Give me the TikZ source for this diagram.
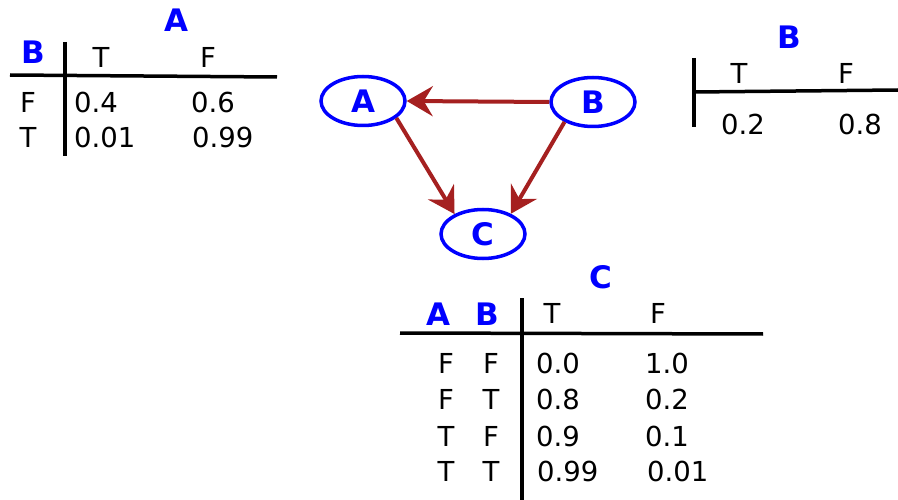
\documentclass[tikz,border=0pt]{standalone}
\usepackage{fontspec}
\setmainfont{DejaVu Sans}
\usetikzlibrary{arrows.meta,shapes.geometric}
\definecolor{arrred}{RGB}{165,32,32}
\tikzset{
  txt/.style={inner sep=0pt, font=\fontsize{27.5}{32}\selectfont},
  val/.style={txt, anchor=west},
  lbl/.style={inner sep=0pt, text=blue, font=\fontsize{31}{36}\selectfont\bfseries},
  rule/.style={line width=3.5pt, black},
  var/.style={ellipse, draw=blue, line width=3.5pt, inner sep=0pt, minimum width=84pt, minimum height=49pt, text=blue, font=\fontsize{31}{36}\selectfont\bfseries},
  dep/.style={line width=4pt, arrred, -{Stealth[length=26pt,width=30pt,inset=9pt]}}
}
\begin{document}
\begin{tikzpicture}[x=1pt,y=-1pt]
\useasboundingbox (0,0) rectangle (898,500);
% Table A
\node[lbl] (tAt) at (176,20) {A};
\node[lbl] (tAb) at (33,52) {B};
\coordinate (tAv1) at (65,42); \coordinate (tAv2) at (65,156);
\coordinate (tAh1) at (10,75); \coordinate (tAh2) at (277,77);
\draw[rule] (tAv1) -- (tAv2);
\draw[rule] (tAh1) -- (tAh2);
\node[txt] (tAT) at (101,57) {T};
\node[txt] (tAF) at (208,57) {F};
\node[txt] (tAr1) at (28,102) {F};
\node[txt] (tAr2) at (28,137) {T};
\node[val] (tA11) at (74,102) {0.4};
\node[val] (tA12) at (191,102) {0.6};
\node[val] (tA21) at (74,137) {0.01};
\node[val] (tA22) at (192,137) {0.99};
% Graph
\node[var] (A) at (363,101) {A};
\node[var] (B) at (593,102) {B};
\node[var] (C) at (483,234) {C};
\draw[dep] (B.west) -- (A.east);
\draw[dep] (A.-27) -- (C.145);
\draw[dep] (B.-145) -- (C.36);
% Table B
\node[lbl] (tBt) at (789,37) {B};
\coordinate (tBv1) at (694,58); \coordinate (tBv2) at (694,127);
\coordinate (tBh1) at (694,92); \coordinate (tBh2) at (898,90);
\draw[rule] (tBv1) -- (tBv2);
\draw[rule] (tBh1) -- (tBh2);
\node[txt] (tBT) at (739,73) {T};
\node[txt] (tBF) at (846,73) {F};
\node[txt] (tB1) at (743,124) {0.2};
\node[txt] (tB2) at (860,124) {0.8};
% Table C
\node[lbl] (tCt) at (601,277) {C};
\node[lbl] (tCa) at (438,314) {A};
\node[lbl] (tCb) at (487,314) {B};
\coordinate (tCv1) at (522,298); \coordinate (tCv2) at (522,500);
\coordinate (tCh1) at (400,333); \coordinate (tCh2) at (763,334);
\draw[rule] (tCv1) -- (tCv2);
\draw[rule] (tCh1) -- (tCh2);
\node[txt] (tCT) at (552,313) {T};
\node[txt] (tCF) at (658,313) {F};
\node[txt] (tCa1) at (446,363) {F}; \node[txt] (tCb1) at (491,363) {F};
\node[txt] (tCa2) at (446,399) {F}; \node[txt] (tCb2) at (491,399) {T};
\node[txt] (tCa3) at (446,436) {T}; \node[txt] (tCb3) at (491,436) {F};
\node[txt] (tCa4) at (446,471) {T}; \node[txt] (tCb4) at (491,471) {T};
\node[val] (tC11) at (536,363) {0.0}; \node[val] (tC12) at (645,363) {1.0};
\node[val] (tC21) at (536,399) {0.8}; \node[val] (tC22) at (645,399) {0.2};
\node[val] (tC31) at (536,436) {0.9}; \node[val] (tC32) at (645,436) {0.1};
\node[val] (tC41) at (537,471) {0.99}; \node[val] (tC42) at (647,471) {0.01};
\end{tikzpicture}
\end{document}
